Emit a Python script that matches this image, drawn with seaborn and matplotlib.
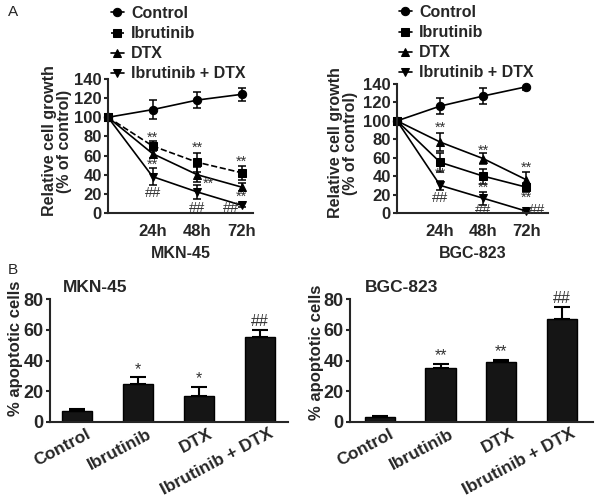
import matplotlib
matplotlib.use('Agg')
import matplotlib.pyplot as plt
import matplotlib.transforms as mtransforms
import seaborn as sns

# growth curves (% of control)
hours = [0, 24, 48, 72]
hour_labels = ['24h', '48h', '72h']
series_names = ['Control', 'Ibrutinib', 'DTX', 'Ibrutinib + DTX']

mkn_control = [100, 108, 118, 124]
mkn_control_err = [0, 10, 8, 7]
mkn_ibr = [100, 70, 53, 42]
mkn_ibr_err = [0, 5, 10, 7]
mkn_dtx = [100, 62, 40, 27]
mkn_dtx_err = [0, 5, 8, 4]
mkn_combo = [100, 38, 22, 8]
mkn_combo_err = [0, 9, 7, 2]

bgc_control = [100, 116, 127, 137]
bgc_control_err = [0, 9, 9, 4]
bgc_ibr = [100, 55, 40, 28]
bgc_ibr_err = [0, 10, 8, 5]
bgc_dtx = [100, 77, 59, 36]
bgc_dtx_err = [0, 10, 6, 8]
bgc_combo = [100, 30, 16, 2]
bgc_combo_err = [0, 5, 7, 1]

# significance marks (hour, value, text)
mkn_marks = [(24, 79, '**'), (24, 50, '**'), (24, 21, '##'),
             (48, 68, '**'), (54, 31, '**'), (48, 5, '##'),
             (72, 53, '**'), (72, 17, '**'), (66, 5, '##')]
bgc_marks = [(24, 92, '**'), (24, 43, '**'), (24, 16, '##'),
             (48, 68, '**'), (48, 27, '**'), (48, 3, '##'),
             (72, 49, '**'), (72, 16, '**'), (78, 3, '##')]

# apoptosis
groups = ['Control', 'Ibrutinib', 'DTX', 'Ibrutinib + DTX']
mkn_apop = [7, 25, 17, 55]
mkn_apop_err = [1.5, 4, 6, 5]
mkn_apop_marks = ['', '*', '*', '##']
bgc_apop = [3.5, 35, 39, 67]
bgc_apop_err = [0.5, 3, 1.5, 8]
bgc_apop_marks = ['', '**', '**', '##']

sns.set_style('ticks')
plt.rcParams['font.family'] = ['Liberation Sans', 'DejaVu Sans']
plt.rcParams['font.weight'] = 'bold'
plt.rcParams['axes.linewidth'] = 1.5

fig = plt.figure(figsize=(6, 5.04), dpi=100)
px = mtransforms.Affine2D().scale(1 / 600, -1 / 504).translate(0, 1) + fig.transFigure


def px_axes(l, t, r, b):
    return fig.add_axes([l / 600, 1 - b / 504, (r - l) / 600, (b - t) / 504])


def growth_panel(ax, series, errs, dashed, marks, title, xmax, legend_xy, ylab_xy):
    markers = ['o', 's', '^', 'v']
    for name, vals, err, mk, ls in zip(series_names, series, errs, markers, dashed):
        sns.lineplot(x=hours, y=vals, ax=ax, color='black', marker=mk, markersize=6,
                     markeredgecolor='black', linestyle=ls, linewidth=1.2,
                     errorbar=None, label=name, clip_on=False)
        ax.errorbar(hours[1:], vals[1:], yerr=err[1:], fmt='none', ecolor='black',
                    elinewidth=1.1, capsize=3, capthick=1.1)
    for h, v, t in marks:
        ax.text(h, v, t, ha='center', va='center', fontsize=10.5, fontweight='normal',
                color='#333333')
    ax.set_xlim(0, xmax)
    ax.set_ylim(0, 140)
    ax.set_yticks(range(0, 141, 20))
    ax.set_xticks(hours[1:])
    ax.set_xticklabels(hour_labels)
    ax.tick_params(axis='x', length=0, pad=8, labelsize=12)
    ax.tick_params(axis='y', length=3, width=1.5, pad=1.5, labelsize=12)
    ax.set_xlabel(title, fontsize=11.5, fontweight='bold', labelpad=5)
    ax.set_ylabel('Relative cell growth\n(% of control)', fontsize=11.5,
                  fontweight='bold', linespacing=1.0, va='center')
    ax.yaxis.set_label_coords(ylab_xy[0], ylab_xy[1], transform=px)
    sns.despine(ax=ax)
    h, l = ax.get_legend_handles_labels()
    ax.legend(h[:4], l[:4], loc='upper left', bbox_to_anchor=legend_xy,
              bbox_transform=px, frameon=False, fontsize=11.5, handlelength=0.8,
              handletextpad=0.45, labelspacing=0.32, borderpad=0, borderaxespad=0)


def apop_panel(ax, vals, errs, marks, title, xlim, title_xy, ylab_xy):
    sns.barplot(x=groups, y=vals, ax=ax, color='#151515', width=0.5,
                edgecolor='black', linewidth=1, errorbar=None, saturation=1)
    xs = range(len(groups))
    ax.errorbar(xs, vals, yerr=[[0] * len(vals), errs], fmt='none', ecolor='black',
                elinewidth=1.5, capsize=6, capthick=1.5)
    for x, v, e, t in zip(xs, vals, errs, marks):
        if t:
            ax.text(x, v + e + 0.5, t, ha='center', va='bottom', fontsize=11.5,
                    fontweight='normal', color='#333333')
    ax.set_xlim(*xlim)
    ax.set_ylim(0, 80)
    ax.set_yticks(range(0, 81, 20))
    ax.tick_params(axis='x', length=0, pad=3, labelsize=12.5)
    ax.tick_params(axis='y', length=3, width=1.5, pad=1.5, labelsize=13)
    off = mtransforms.ScaledTranslation(9 / 100, 0, fig.dpi_scale_trans)
    for lab in ax.get_xticklabels():
        lab.set_rotation(28)
        lab.set_rotation_mode('anchor')
        lab.set_ha('right')
        lab.set_va('top')
        lab.set_transform(lab.get_transform() + off)
    ax.set_xlabel('')
    ax.set_ylabel('% apoptotic cells', fontsize=12, fontweight='bold', va='center')
    ax.yaxis.set_label_coords(ylab_xy[0], ylab_xy[1], transform=px)
    ax.text(title_xy[0], title_xy[1], title, transform=px, ha='left', va='center',
            fontsize=12.5, fontweight='bold')
    sns.despine(ax=ax)


ax1 = px_axes(108, 79, 253, 213)
growth_panel(ax1, [mkn_control, mkn_ibr, mkn_dtx, mkn_combo],
             [mkn_control_err, mkn_ibr_err, mkn_dtx_err, mkn_combo_err],
             ['-', '--', '-', '-'], mkn_marks, 'MKN-45', 78, (111, 6), (57, 141))

ax2 = px_axes(397, 84, 548, 213)
growth_panel(ax2, [bgc_control, bgc_ibr, bgc_dtx, bgc_combo],
             [bgc_control_err, bgc_ibr_err, bgc_dtx_err, bgc_combo_err],
             ['-', '-', '-', '-'], bgc_marks, 'BGC-823', 84, (399, 5), (343, 143))

ax3 = px_axes(50, 299, 288, 422)
apop_panel(ax3, mkn_apop, mkn_apop_err, mkn_apop_marks, 'MKN-45', (-0.44, 3.46),
           (63, 288), (16, 348))

ax4 = px_axes(350, 299, 593, 422)
apop_panel(ax4, bgc_apop, bgc_apop_err, bgc_apop_marks, 'BGC-823', (-0.49, 3.51),
           (365, 288), (316, 352))

fig.text(8 / 600, 1 - 12 / 504, 'A', fontsize=11, fontweight='normal', va='center')
fig.text(8 / 600, 1 - 270 / 504, 'B', fontsize=11, fontweight='normal', va='center')

fig.savefig('out.png', dpi=100)
